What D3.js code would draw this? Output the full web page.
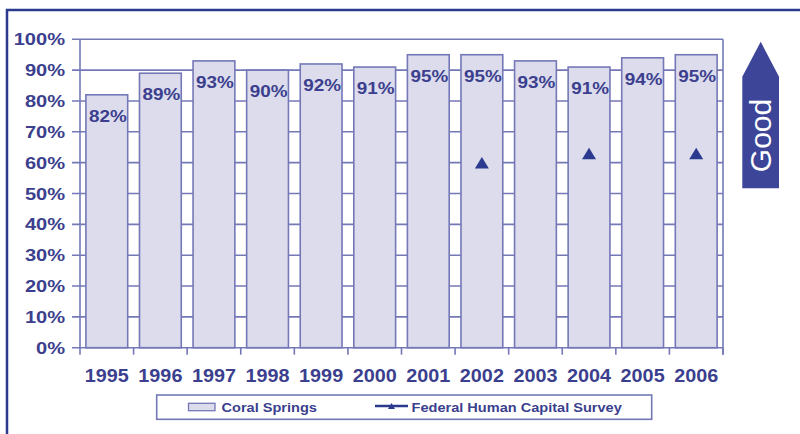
<!DOCTYPE html>
<html>
<head>
<meta charset="utf-8">
<script src="https://cdn.jsdelivr.net/npm/d3@7"></script>
<style>
  html, body { margin: 0; padding: 0; background: #fff; }
  svg { display: block; font-family: "Liberation Sans", Arial, sans-serif; }
</style>
</head>
<body>
<svg id="chart" width="800" height="434"></svg>
<script>
// ---- data ----
const years = ["1995","1996","1997","1998","1999","2000","2001","2002","2003","2004","2005","2006"];
const coralSprings = [82, 89, 93, 90, 92, 91, 95, 95, 93, 91, 94, 95];
const federalYears = ["2002", "2004", "2006"];
const federalValues = [60, 63, 63];
const yTicks = [0, 10, 20, 30, 40, 50, 60, 70, 80, 90, 100];
const seriesNames = ["Coral Springs", "Federal Human Capital Survey"];
const arrowLabel = "Good";

// ---- styles ----
const frameColor = "#2b3a8f";
const lineColor = "#7478b6";
const barFill = "#dcdcec";
const textColor = "#3b3f8e";
const arrowColor = "#3c4597";

const svg = d3.select("#chart");

// outer frame (top + left)
svg.append("path")
  .attr("d", "M7,434 L7,10 L800,10")
  .attr("fill", "none")
  .attr("stroke", frameColor)
  .attr("stroke-width", 2.5);

const plot = { left: 80, right: 723, top: 39.3, bottom: 347.7 };

const x = d3.scaleBand().domain(years).range([plot.left, plot.right]).padding(0);
const y = d3.scaleLinear().domain([0, 100]).range([plot.bottom, plot.top]);

// gridlines
svg.append("g").selectAll("line").data(yTicks).join("line")
  .attr("x1", plot.left - 8).attr("x2", plot.right)
  .attr("y1", d => y(d)).attr("y2", d => y(d))
  .attr("stroke", lineColor).attr("stroke-width", 1.6);

// right frame of plot
svg.append("line")
  .attr("x1", plot.right).attr("x2", plot.right)
  .attr("y1", y(100)).attr("y2", y(0) + 7)
  .attr("stroke", lineColor).attr("stroke-width", 1.6);

// y axis line
svg.append("line")
  .attr("x1", plot.left).attr("x2", plot.left)
  .attr("y1", y(100)).attr("y2", y(0))
  .attr("stroke", lineColor).attr("stroke-width", 1.6);

// x ticks at band boundaries
const boundaries = years.map(d => x(d)).concat([plot.right]);
svg.append("g").selectAll("line").data(boundaries).join("line")
  .attr("x1", d => d).attr("x2", d => d)
  .attr("y1", y(0)).attr("y2", y(0) + 7)
  .attr("stroke", lineColor).attr("stroke-width", 1.6);

// bars
const bw = x.bandwidth();
const inset = bw * 0.11;
svg.append("g").selectAll("rect").data(years).join("rect")
  .attr("x", d => x(d) + inset)
  .attr("width", bw - 2 * inset)
  .attr("y", (d, i) => y(coralSprings[i]))
  .attr("height", (d, i) => y(0) - y(coralSprings[i]))
  .attr("fill", barFill)
  .attr("stroke", lineColor)
  .attr("stroke-width", 1.6);

// bar labels
svg.append("g").selectAll("text").data(years).join("text")
  .attr("transform", (d, i) => `translate(${x(d) + bw / 2 + 1},${y(coralSprings[i]) + 27}) scale(1.18,1)`)
  .attr("text-anchor", "middle")
  .attr("font-size", 16).attr("font-weight", "bold")
  .attr("fill", textColor)
  .text((d, i) => coralSprings[i] + "%");

// y tick labels
svg.append("g").selectAll("text").data(yTicks).join("text")
  .attr("transform", d => `translate(65,${y(d) + 6}) scale(1.18,1)`)
  .attr("text-anchor", "end")
  .attr("font-size", 17).attr("font-weight", "bold")
  .attr("fill", textColor)
  .text(d => d + "%");

// x tick labels
svg.append("g").selectAll("text").data(years).join("text")
  .attr("transform", d => `translate(${x(d) + bw / 2},${382}) scale(1.1,1)`)
  .attr("text-anchor", "middle")
  .attr("font-size", 18).attr("font-weight", "bold")
  .attr("fill", textColor)
  .text(d => d);

// federal survey triangles
const tri = (cx, cy, w, h) => `M${cx},${cy - h / 2} L${cx + w / 2},${cy + h / 2} L${cx - w / 2},${cy + h / 2} Z`;
svg.append("g").selectAll("path").data(federalYears).join("path")
  .attr("d", (d, i) => tri(x(d) + bw / 2, y(federalValues[i]), 14, 11.5))
  .attr("fill", frameColor);

// legend
const lg = svg.append("g");
lg.append("rect")
  .attr("x", 156.7).attr("y", 395).attr("width", 495).attr("height", 24.3)
  .attr("fill", "#fff").attr("stroke", lineColor).attr("stroke-width", 1.6);
lg.append("rect")
  .attr("x", 188.5).attr("y", 403.3).attr("width", 26.5).attr("height", 7.4)
  .attr("fill", barFill).attr("stroke", lineColor).attr("stroke-width", 1.3);
lg.append("text")
  .attr("transform", "translate(221.5,411.8) scale(1.12,1)")
  .attr("font-size", 13).attr("font-weight", "bold").attr("fill", textColor)
  .text(seriesNames[0]);
lg.append("line")
  .attr("x1", 375).attr("x2", 408).attr("y1", 406).attr("y2", 406)
  .attr("stroke", frameColor).attr("stroke-width", 2.5);
lg.append("path").attr("d", tri(391.5, 406, 7, 6)).attr("fill", frameColor);
lg.append("text")
  .attr("transform", "translate(411.5,411.8) scale(1.12,1)")
  .attr("font-size", 13).attr("font-weight", "bold").attr("fill", textColor)
  .text(seriesNames[1]);

// "Good" arrow
svg.append("path")
  .attr("d", "M760.7,41.7 L779,76.7 L779,188.3 L742.3,188.3 L742.3,76.7 Z")
  .attr("fill", arrowColor);
svg.append("text")
  .attr("transform", "translate(770.5,135.5) rotate(-90)")
  .attr("text-anchor", "middle")
  .attr("font-size", 30)
  .attr("fill", "#fff")
  .text(arrowLabel);
</script>
</body>
</html>
